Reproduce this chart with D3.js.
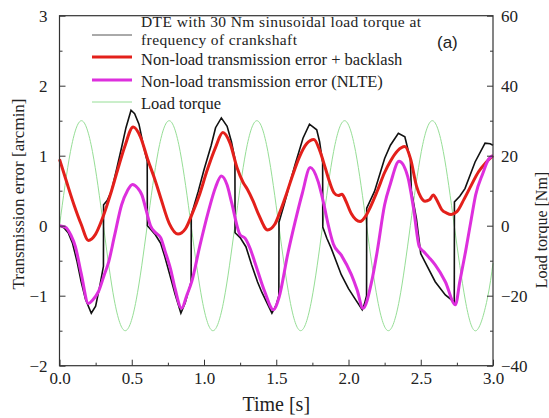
<!DOCTYPE html>
<html>
<head>
<meta charset="utf-8">
<script src="https://cdn.jsdelivr.net/npm/d3@7"></script>
<style>
  body { margin: 0; background: #fff; }
  svg text { font-family: "Liberation Serif", "DejaVu Serif", serif; fill: #222; }
</style>
</head>
<body>
<script>
var width = 549;
var height = 418;
var margin = {top: 15.7, right: 56, bottom: 52.3, left: 59.5};
var serif = '"Liberation Serif", "DejaVu Serif", serif';

// tick labels
var timeTicks = [0, 0.5, 1.0, 1.5, 2.0, 2.5, 3.0];
var errorTicks = [-2, -1, 0, 1, 2, 3];
var torqueTicks = [-40, -20, 0, 20, 40, 60];

// DTE with 30 Nm sinusoidal load torque [t (s), error (arcmin)]
var dteData = [
  [0.000, 0.00], [0.030, -0.03], [0.060, -0.10], [0.090, -0.25], [0.120, -0.50],
  [0.150, -0.80], [0.180, -1.05], [0.220, -1.25], [0.250, -1.15], [0.280, -0.85],
  [0.304, -0.58], [0.305, 0.30], [0.330, 0.36], [0.360, 0.50], [0.400, 0.85],
  [0.430, 1.12], [0.460, 1.40], [0.495, 1.65], [0.520, 1.60], [0.550, 1.45],
  [0.580, 1.15], [0.607, 0.92], [0.608, 0.00], [0.630, -0.05], [0.660, -0.12],
  [0.700, -0.25], [0.730, -0.45], [0.770, -0.75], [0.800, -0.98], [0.840, -1.25],
  [0.870, -1.10], [0.911, -0.80], [0.912, 0.15], [0.960, 0.49], [1.000, 0.80],
  [1.050, 1.15], [1.080, 1.40], [1.120, 1.54], [1.160, 1.42], [1.190, 1.20],
  [1.214, 0.95], [1.215, -0.10], [1.250, -0.17], [1.290, -0.30], [1.330, -0.56],
  [1.370, -0.80], [1.400, -0.95], [1.470, -1.25], [1.500, -1.13], [1.518, -1.00],
  [1.519, 0.05], [1.560, 0.34], [1.600, 0.65], [1.630, 0.87], [1.685, 1.25],
  [1.730, 1.45], [1.780, 1.37], [1.800, 1.20], [1.821, 0.90], [1.822, -0.02],
  [1.850, -0.18], [1.880, -0.32], [1.950, -0.70], [2.000, -0.90], [2.050, -1.06],
  [2.095, -1.20], [2.110, -1.12], [2.125, -1.00], [2.126, 0.25], [2.180, 0.49],
  [2.250, 0.96], [2.290, 1.15], [2.345, 1.32], [2.390, 1.27], [2.428, 0.95],
  [2.435, 0.50], [2.470, 0.10], [2.500, -0.40], [2.530, -0.52], [2.600, -0.80],
  [2.670, -0.99], [2.732, -1.09], [2.733, 0.34], [2.770, 0.42], [2.806, 0.53],
  [2.876, 0.91], [2.945, 1.18], [2.980, 1.17], [3.000, 1.15]
];

// Non-load transmission error + backlash
var backlashData = [
  [0.00, 0.95], [0.05, 0.62], [0.10, 0.30], [0.15, 0.02], [0.20, -0.21],
  [0.25, -0.12], [0.30, 0.12], [0.35, 0.43], [0.40, 0.78], [0.45, 1.12],
  [0.51, 1.41], [0.56, 1.27], [0.61, 0.95], [0.66, 0.66], [0.70, 0.40],
  [0.76, 0.03], [0.82, -0.12], [0.87, -0.05], [0.92, 0.18], [0.97, 0.45],
  [1.02, 0.78], [1.08, 1.12], [1.13, 1.33], [1.18, 1.18], [1.23, 0.82],
  [1.27, 0.62], [1.30, 0.52], [1.34, 0.35], [1.38, 0.15], [1.44, -0.06],
  [1.49, 0.02], [1.53, 0.22], [1.57, 0.45], [1.61, 0.70], [1.66, 0.98],
  [1.71, 1.17], [1.76, 1.23], [1.80, 1.08], [1.84, 0.82], [1.87, 0.62],
  [1.90, 0.47], [1.93, 0.43], [1.955, 0.45], [1.98, 0.36], [2.02, 0.17],
  [2.08, 0.06], [2.12, 0.14], [2.15, 0.26], [2.20, 0.50], [2.25, 0.76],
  [2.29, 0.92], [2.34, 1.07], [2.39, 1.13], [2.43, 0.95], [2.47, 0.57],
  [2.50, 0.41], [2.53, 0.35], [2.56, 0.37], [2.587, 0.44], [2.61, 0.37],
  [2.645, 0.23], [2.68, 0.18], [2.71, 0.16], [2.75, 0.20], [2.80, 0.38],
  [2.85, 0.58], [2.90, 0.77], [2.95, 0.90], [3.00, 1.00]
];

// Non-load transmission error (NLTE)
var nlteData = [
  [0.00, 0.00], [0.04, -0.02], [0.08, -0.14], [0.11, -0.30], [0.15, -0.68],
  [0.20, -1.11], [0.23, -1.06], [0.27, -0.94], [0.31, -0.70], [0.34, -0.52],
  [0.38, -0.15], [0.43, 0.30], [0.47, 0.50], [0.505, 0.59], [0.54, 0.54],
  [0.57, 0.44], [0.60, 0.22], [0.63, 0.00], [0.66, -0.09], [0.70, -0.17],
  [0.73, -0.36], [0.77, -0.63], [0.80, -0.90], [0.845, -1.18], [0.88, -1.00],
  [0.915, -0.80], [0.97, -0.30], [1.03, 0.20], [1.08, 0.55], [1.12, 0.71],
  [1.16, 0.58], [1.19, 0.34], [1.25, -0.13], [1.285, -0.18], [1.32, -0.33],
  [1.35, -0.51], [1.42, -0.94], [1.48, -1.20], [1.52, -1.02], [1.58, -0.40],
  [1.63, 0.05], [1.68, 0.46], [1.735, 0.83], [1.79, 0.63], [1.83, 0.30],
  [1.86, 0.01], [1.895, -0.26], [1.95, -0.42], [2.02, -0.70], [2.06, -0.92],
  [2.10, -1.18], [2.16, -0.80], [2.20, -0.35], [2.25, 0.30], [2.29, 0.60],
  [2.35, 0.92], [2.41, 0.70], [2.45, 0.25], [2.49, -0.30], [2.52, -0.37],
  [2.56, -0.46], [2.60, -0.56], [2.67, -0.80], [2.74, -1.13], [2.77, -0.80],
  [2.81, -0.37], [2.85, 0.10], [2.88, 0.44], [2.93, 0.75], [2.97, 0.95],
  [3.00, 1.00]
];

// Load torque [t (s), torque (Nm)]
var torqueData = [
  [0.000, 0], [0.076, 21.2], [0.152, 30], [0.228, 21.2], [0.304, 0],
  [0.379, -21.2], [0.455, -30], [0.531, -21.2], [0.607, 0], [0.683, 21.2],
  [0.759, 30], [0.835, 21.2], [0.911, 0], [0.987, -21.2], [1.062, -30],
  [1.138, -21.2], [1.214, 0], [1.290, 21.2], [1.366, 30], [1.442, 21.2],
  [1.518, 0], [1.594, -21.2], [1.669, -30], [1.745, -21.2], [1.821, 0],
  [1.897, 21.2], [1.973, 30], [2.049, 21.2], [2.125, 0], [2.201, -21.2],
  [2.276, -30], [2.352, -21.2], [2.428, 0], [2.504, 21.2], [2.580, 30],
  [2.656, 21.2], [2.732, 0], [2.808, -21.2], [2.883, -30], [2.959, -21.2],
  [3.000, -10.7]
];

var legendLabels = [
  ["DTE with 30 Nm sinusoidal load torque at", "frequency of crankshaft"],
  ["Non-load transmission error + backlash"],
  ["Non-load transmission error (NLTE)"],
  ["Load torque"]
];

var innerW = width - margin.left - margin.right;
var innerH = height - margin.top - margin.bottom;

var svg = d3.select('body').append('svg')
    .attr('width', width)
    .attr('height', height);

var g = svg.append('g')
    .attr('transform', 'translate(' + margin.left + ',' + margin.top + ')');

var x = d3.scaleLinear().domain([0, 3]).range([0, innerW]);
var y = d3.scaleLinear().domain([-2, 3]).range([innerH, 0]);
var y2 = d3.scaleLinear().domain([-40, 60]).range([innerH, 0]);

// curves
var lineY = d3.line()
    .x(function(d) { return x(d[0]); })
    .y(function(d) { return y(d[1]); });

var lineY2 = d3.line()
    .curve(d3.curveNatural)
    .x(function(d) { return x(d[0]); })
    .y(function(d) { return y2(d[1]); });

g.append('path')
    .datum(torqueData)
    .attr('d', lineY2)
    .attr('fill', 'none')
    .attr('stroke', '#96de96')
    .attr('stroke-width', 1);

g.append('path')
    .datum(dteData)
    .attr('d', lineY)
    .attr('fill', 'none')
    .attr('stroke', '#111')
    .attr('stroke-width', 1.6);

g.append('path')
    .datum(backlashData)
    .attr('d', lineY.curve(d3.curveMonotoneX))
    .attr('fill', 'none')
    .attr('stroke', '#e3201b')
    .attr('stroke-width', 3);

g.append('path')
    .datum(nlteData)
    .attr('d', lineY.curve(d3.curveMonotoneX))
    .attr('fill', 'none')
    .attr('stroke', '#dd2fdd')
    .attr('stroke-width', 3);

// axes, ticks pointing inward
function styleAxis(sel) {
  sel.attr('font-family', serif);
  sel.select('.domain').remove();
  sel.selectAll('line').attr('stroke', '#333');
  sel.selectAll('text').attr('font-size', 17)
      .attr('font-family', serif).attr('fill', '#222');
}

var minorT = d3.range(0.25, 3, 0.5);
var minorE = d3.range(-1.5, 3, 1);
var minorQ = d3.range(-30, 60, 20);

g.append('g')
    .attr('transform', 'translate(0,' + innerH + ')')
    .call(d3.axisBottom(x).tickValues(timeTicks).tickFormat(d3.format('.1f'))
      .tickSize(-6).tickPadding(6))
    .call(styleAxis);
g.append('g')
    .attr('transform', 'translate(0,' + innerH + ')')
    .call(d3.axisBottom(x).tickValues(minorT).tickFormat('').tickSize(-3))
    .call(styleAxis);

g.append('g')
    .call(d3.axisLeft(y).tickValues(errorTicks).tickFormat(d3.format('d'))
      .tickSize(-6).tickPadding(12))
    .call(styleAxis);
g.append('g')
    .call(d3.axisLeft(y).tickValues(minorE).tickFormat('').tickSize(-3))
    .call(styleAxis);

g.append('g')
    .attr('transform', 'translate(' + innerW + ',0)')
    .call(d3.axisRight(y2).tickValues(torqueTicks).tickFormat(d3.format('d'))
      .tickSize(-6).tickPadding(8))
    .call(styleAxis);
g.append('g')
    .attr('transform', 'translate(' + innerW + ',0)')
    .call(d3.axisRight(y2).tickValues(minorQ).tickFormat('').tickSize(-3))
    .call(styleAxis);

g.append('rect')
    .attr('width', innerW)
    .attr('height', innerH)
    .attr('fill', 'none')
    .attr('stroke', '#333')
    .attr('stroke-width', 1.2);

// axis titles
svg.append('text')
    .attr('x', margin.left + innerW / 2)
    .attr('y', 411)
    .attr('text-anchor', 'middle')
    .attr('font-family', serif)
    .attr('font-size', 20)
    .text('Time [s]');

svg.append('text')
    .attr('transform', 'translate(24,194) rotate(-90)')
    .attr('text-anchor', 'middle')
    .attr('font-family', serif)
    .attr('font-size', 17)
    .text('Transmission error [arcmin]');

svg.append('text')
    .attr('transform', 'translate(547,230) rotate(-90)')
    .attr('text-anchor', 'middle')
    .attr('font-family', serif)
    .attr('font-size', 16)
    .text('Load torque [Nm]');

// legend
var legendColors = ['#555', '#e3201b', '#dd2fdd', '#96de96'];
var legendWidths = [1, 3, 3, 1];
var legendLineY = [35, 57, 80, 102];
var legendTextY = [[27.3, 44.8], [65], [87], [109]];
var legendStretch = [[280, 156], [null], [null], [null]];

var legend = svg.append('g');
legendLabels.forEach(function(lines, i) {
  legend.append('line')
      .attr('x1', 92).attr('x2', 132)
      .attr('y1', legendLineY[i]).attr('y2', legendLineY[i])
      .attr('stroke', legendColors[i])
      .attr('stroke-width', legendWidths[i]);
  lines.forEach(function(s, j) {
    var t = legend.append('text')
        .attr('x', 141)
        .attr('y', legendTextY[i][j])
        .attr('font-family', serif)
        .attr('font-size', i === 0 ? 15.5 : 16.5)
        .text(s);
    if (legendStretch[i][j]) {
      t.attr('textLength', legendStretch[i][j]).attr('lengthAdjust', 'spacing');
    }
  });
});

svg.append('text')
    .attr('x', 437)
    .attr('y', 48)
    .attr('font-size', 17)
    .style('font-family', '"Liberation Sans", Arial, sans-serif')
    .text('(a)');
</script>
</body>
</html>
